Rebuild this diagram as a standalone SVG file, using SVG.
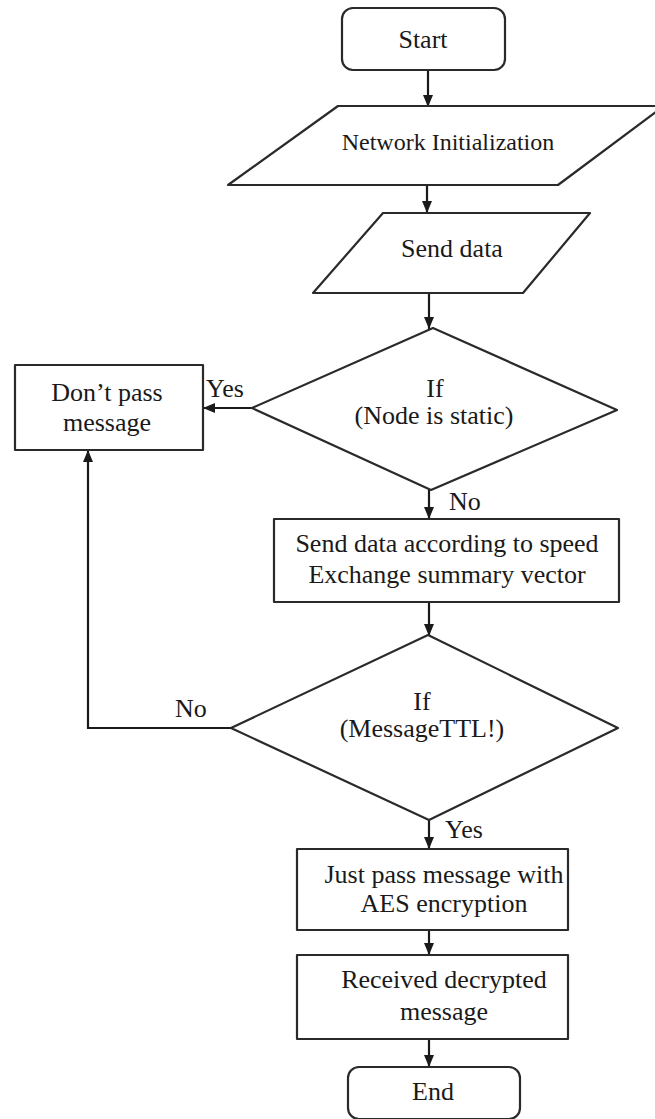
<svg xmlns="http://www.w3.org/2000/svg" width="655" height="1119" viewBox="0 0 655 1119">
  <defs>
    <marker id="arrow" viewBox="0 0 12 10" refX="12" refY="5" markerWidth="12" markerHeight="10" markerUnits="userSpaceOnUse" orient="auto">
      <path d="M0,0 L12,5 L0,10 Z" fill="#1a1a1a"/>
    </marker>
    <style>
      .shape { fill: #ffffff; stroke: #2a2a2a; stroke-width: 2.2; stroke-linejoin: round; }
      .link { fill: none; stroke: #1a1a1a; stroke-width: 2.2; }
      .t { font-family: 'Liberation Serif', 'Times New Roman', serif; font-size: 26px; fill: #1a1a1a; }
      .c { text-anchor: middle; }
    </style>
  </defs>
  <rect width="655" height="1119" fill="#ffffff"/>

  <!-- connectors and branch labels -->
  <g id="connectors">
    <line class="link" x1="428" y1="70" x2="428" y2="107" marker-end="url(#arrow)"/>
    <line class="link" x1="427" y1="185" x2="427" y2="213" marker-end="url(#arrow)"/>
    <line class="link" x1="429" y1="293" x2="429" y2="329" marker-end="url(#arrow)"/>
    <line class="link" x1="252" y1="408" x2="203" y2="408" marker-end="url(#arrow)"/>
    <line class="link" x1="429" y1="490" x2="429" y2="519" marker-end="url(#arrow)"/>
    <line class="link" x1="429" y1="602" x2="429" y2="636" marker-end="url(#arrow)"/>
    <polyline class="link" points="231,728 88,728 88,450" marker-end="url(#arrow)"/>
    <line class="link" x1="429" y1="820" x2="429" y2="849" marker-end="url(#arrow)"/>
    <line class="link" x1="429" y1="930" x2="429" y2="955" marker-end="url(#arrow)"/>
    <line class="link" x1="429" y1="1039" x2="429" y2="1067" marker-end="url(#arrow)"/>
    <text class="t" x="206" y="397">Yes</text>
    <text class="t" x="449" y="510">No</text>
    <text class="t" x="175" y="717">No</text>
    <text class="t" x="445" y="838">Yes</text>
  </g>

  <g id="start">
    <rect class="shape" x="342" y="8" width="163" height="62" rx="11"/>
    <text class="t c" x="423" y="48">Start</text>
  </g>

  <g id="network-init">
    <polygon class="shape" points="338,106 664,106 558,185 228,185"/>
    <text class="t c" x="448" y="150" style="font-size:24px">Network Initialization</text>
  </g>

  <g id="send-data">
    <polygon class="shape" points="383,213 590,213 523,293 313,293"/>
    <text class="t c" x="452" y="257">Send data</text>
  </g>

  <g id="node-static">
    <polygon class="shape" points="433,328 617,410 431,490 252,408"/>
    <text class="t c" x="435" y="397">If</text>
    <text class="t c" x="434" y="424">(Node is static)</text>
  </g>

  <g id="dont-pass">
    <rect class="shape" x="15" y="365" width="188" height="85"/>
    <text class="t c" x="107" y="401">Don’t pass</text>
    <text class="t c" x="107" y="431">message</text>
  </g>

  <g id="send-by-speed">
    <rect class="shape" x="274" y="519" width="345" height="83"/>
    <text class="t c" x="447" y="552">Send data according to speed</text>
    <text class="t c" x="447" y="583">Exchange summary vector</text>
  </g>

  <g id="message-ttl">
    <polygon class="shape" points="428,635 618,728 429,820 231,728"/>
    <text class="t c" x="422" y="710">If</text>
    <text class="t c" x="422" y="737">(MessageTTL!)</text>
  </g>

  <g id="pass-aes">
    <rect class="shape" x="297" y="849" width="271" height="81"/>
    <text class="t c" x="444" y="883">Just pass message with</text>
    <text class="t c" x="444" y="912">AES encryption</text>
  </g>

  <g id="received">
    <rect class="shape" x="297" y="955" width="271" height="84"/>
    <text class="t c" x="444" y="988">Received decrypted</text>
    <text class="t c" x="444" y="1020">message</text>
  </g>

  <g id="end">
    <rect class="shape" x="348" y="1067" width="172" height="52" rx="11"/>
    <text class="t c" x="433" y="1100">End</text>
  </g>
</svg>
